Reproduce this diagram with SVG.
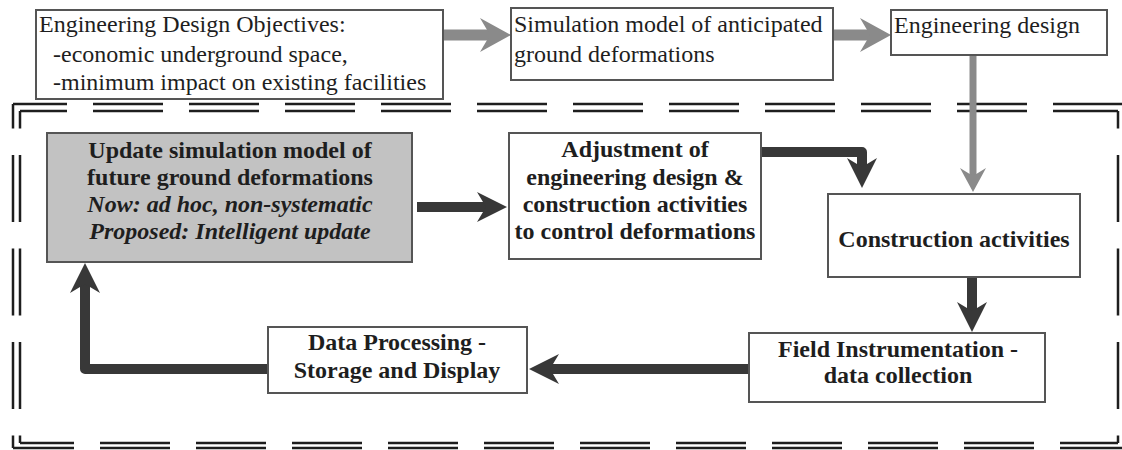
<svg xmlns="http://www.w3.org/2000/svg" width="1122" height="450" viewBox="0 0 1122 450">
  <style>
    .box { fill: #ffffff; stroke: #555555; stroke-width: 2; }
    .shaded { fill: #c2c2c2; stroke: #555555; stroke-width: 2; }
    .t { font-family: "Liberation Serif", "Times New Roman", serif; font-size: 24px; fill: #1e1e1e; }
    .b { font-weight: bold; text-anchor: middle; }
    .bi { font-weight: bold; font-style: italic; text-anchor: middle; }
    .bd { fill: none; stroke: #1e1e1e; stroke-width: 2.5; }
    .h { stroke-dasharray: 70 26; }
    .v { stroke-dasharray: 67 26.5; }
    .dark { fill: none; stroke: #383838; stroke-width: 10; stroke-linejoin: round; }
    .gray { fill: none; stroke: #8a8a8a; stroke-width: 11; }
    .grayv { fill: none; stroke: #8a8a8a; stroke-width: 7; }
  </style>
  <defs>
    <marker id="hd" markerUnits="userSpaceOnUse" markerWidth="30" markerHeight="30" viewBox="0 0 30 30" refX="12" refY="15" orient="auto">
      <path d="M0,0 L30,15 L0,30 L9,15 Z" fill="#383838"/>
    </marker>
    <marker id="hg" markerUnits="userSpaceOnUse" markerWidth="31" markerHeight="34" viewBox="0 0 31 34" refX="13" refY="17" orient="auto">
      <path d="M0,0 L31,17 L0,34 L10,17 Z" fill="#8a8a8a"/>
    </marker>
    <marker id="hgs" markerUnits="userSpaceOnUse" markerWidth="24" markerHeight="26" viewBox="0 0 24 26" refX="10" refY="13" orient="auto">
      <path d="M0,0 L24,13 L0,26 L8,13 Z" fill="#8a8a8a"/>
    </marker>
  </defs>

  <g id="boundary">
    <line class="bd h" x1="13" y1="104" x2="1122" y2="104" stroke-dashoffset="16"/>
    <line class="bd h" x1="20" y1="111" x2="1118" y2="111" stroke-dashoffset="23"/>
    <line class="bd h" x1="13" y1="448" x2="1122" y2="448" stroke-dashoffset="9"/>
    <line class="bd h" x1="20" y1="443" x2="1118" y2="443" stroke-dashoffset="16"/>
    <line class="bd v" x1="13" y1="104" x2="13" y2="448" stroke-dashoffset="42.5"/>
    <line class="bd v" x1="20" y1="111" x2="20" y2="443" stroke-dashoffset="49.5"/>
    <line class="bd v" x1="1118" y1="111" x2="1118" y2="443" stroke-dashoffset="49.5"/>
  </g>

  <g id="connectors">
    <path class="gray" d="M443,35 L493,35" marker-end="url(#hg)"/>
    <path class="gray" d="M833,35 L873,35" marker-end="url(#hg)"/>
    <path class="grayv" d="M973,55 L973,178" marker-end="url(#hgs)"/>
    <path class="dark" d="M417,207 L489,207" marker-end="url(#hd)"/>
    <path class="dark" d="M761,152 L862,152 L862,170" marker-end="url(#hd)"/>
    <path class="dark" d="M972,277 L972,314" marker-end="url(#hd)"/>
    <path class="dark" d="M749,369 L547,369" marker-end="url(#hd)"/>
    <path class="dark" d="M268,369 L85,369 L85,281" marker-end="url(#hd)"/>
  </g>

  <g id="objectives">
    <rect class="box" x="36" y="10" width="407" height="89"/>
    <text class="t" x="39" y="32">Engineering Design Objectives:</text>
    <text class="t" x="53" y="62">-economic underground space,</text>
    <text class="t" x="53" y="90">-minimum impact on existing facilities</text>
  </g>

  <g id="simulation-model">
    <rect class="box" x="511" y="8" width="322" height="72"/>
    <text class="t" x="514" y="32">Simulation model of anticipated</text>
    <text class="t" x="514" y="62">ground deformations</text>
  </g>

  <g id="engineering-design">
    <rect class="box" x="891" y="10" width="216" height="45"/>
    <text class="t" x="894" y="33">Engineering design</text>
  </g>

  <g id="update-model">
    <rect class="shaded" x="47" y="133" width="365" height="129"/>
    <text class="t b" x="230" y="158">Update simulation model of</text>
    <text class="t b" x="230" y="185">future ground deformations</text>
    <text class="t bi" x="230" y="212">Now: ad hoc, non-systematic</text>
    <text class="t bi" x="230" y="239">Proposed: Intelligent update</text>
  </g>

  <g id="adjustment">
    <rect class="box" x="509" y="133" width="252" height="126"/>
    <text class="t b" x="635" y="157">Adjustment of</text>
    <text class="t b" x="635" y="185">engineering design &amp;</text>
    <text class="t b" x="635" y="212">construction activities</text>
    <text class="t b" x="635" y="239">to control deformations</text>
  </g>

  <g id="construction">
    <rect class="box" x="828" y="194" width="252" height="83"/>
    <text class="t b" x="954" y="247">Construction activities</text>
  </g>

  <g id="field-instrumentation">
    <rect class="box" x="749" y="333" width="296" height="69"/>
    <text class="t b" x="898" y="357">Field Instrumentation -</text>
    <text class="t b" x="898" y="383">data collection</text>
  </g>

  <g id="data-processing">
    <rect class="box" x="268" y="327" width="259" height="66"/>
    <text class="t b" x="397" y="350">Data Processing -</text>
    <text class="t b" x="397" y="378">Storage and Display</text>
  </g>
</svg>
